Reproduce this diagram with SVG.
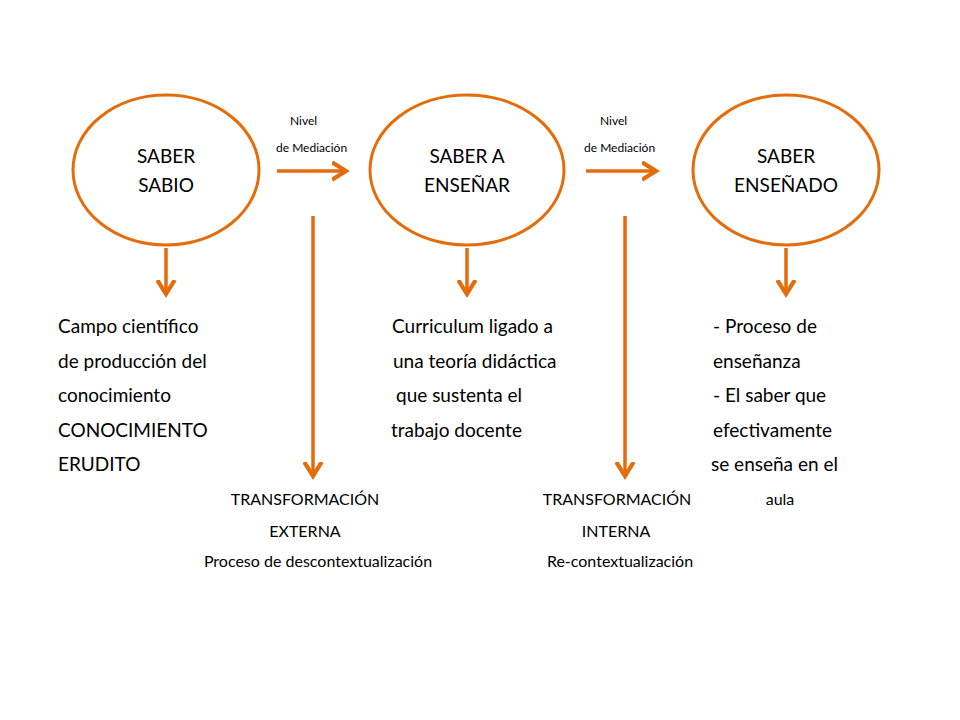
<svg xmlns="http://www.w3.org/2000/svg" width="960" height="720" viewBox="0 0 960 720">
<style>
.e{fill:#fff;stroke:#E46C0A;stroke-width:3}
.c{stroke:#E46C0A;stroke-width:3.5;fill:none;marker-end:url(#a)}
text{font-family:Lato,"Open Sans",sans-serif;fill:#000}
.n{font-size:19px;text-anchor:middle}
.b{font-size:19px}
.s{font-size:12px}
.m{font-size:16px;text-anchor:middle}
</style>
<defs><marker id="a" markerWidth="6" markerHeight="6" refX="4" refY="3" orient="auto" markerUnits="strokeWidth"><path d="M0,0.5 L4,3 L0,5.5" fill="none" stroke="#E46C0A" stroke-width="1.2"/></marker></defs>
<rect width="960" height="720" fill="#fff"/>
<g id="n1"><ellipse class="e" cx="166" cy="170" rx="93" ry="75"/><text class="n" x="166" y="163">SABER</text><text class="n" x="166" y="192">SABIO</text></g>
<g id="n2"><ellipse class="e" cx="467" cy="170" rx="97" ry="75"/><text class="n" x="467" y="163">SABER A</text><text class="n" x="467" y="192">ENSEÑAR</text></g>
<g id="n3"><ellipse class="e" cx="786" cy="170" rx="93" ry="75"/><text class="n" x="786" y="163">SABER</text><text class="n" x="786" y="192">ENSEÑADO</text></g>
<g id="connectors">
<line class="c" x1="277" y1="171" x2="346" y2="171"/>
<line class="c" x1="586" y1="171" x2="656" y2="171"/>
<line class="c" x1="166" y1="248" x2="166" y2="294"/>
<line class="c" x1="467" y1="248" x2="467" y2="294"/>
<line class="c" x1="786" y1="248" x2="786" y2="294"/>
<line class="c" x1="313" y1="216" x2="313" y2="476"/>
<line class="c" x1="625" y1="216" x2="625" y2="476"/>
</g>
<g id="labels">
<text class="s" x="290" y="125">Nivel</text><text class="s" x="276" y="152">de Mediación</text>
<text class="s" x="600" y="125">Nivel</text><text class="s" x="584" y="152">de Mediación</text>
<text class="b" x="58" y="333">Campo científico</text>
<text class="b" x="58" y="368">de producción del</text>
<text class="b" x="58" y="402">conocimiento</text>
<text class="b" x="58" y="437">CONOCIMIENTO</text>
<text class="b" x="58" y="471">ERUDITO</text>
<text class="b" x="392" y="333">Curriculum ligado a</text>
<text class="b" x="393" y="368">una teoría didáctica</text>
<text class="b" x="396" y="402">que sustenta el</text>
<text class="b" x="391" y="437">trabajo docente</text>
<text class="b" x="713" y="333">- Proceso de</text>
<text class="b" x="713" y="368">enseñanza</text>
<text class="b" x="713" y="402">- El saber que</text>
<text class="b" x="713" y="437">efectivamente</text>
<text class="b" x="711" y="471">se enseña en el</text>
<text class="m" x="305" y="505">TRANSFORMACIÓN</text>
<text class="m" x="305" y="537">EXTERNA</text>
<text class="m" x="318" y="567">Proceso de descontextualización</text>
<text class="m" x="617" y="505">TRANSFORMACIÓN</text>
<text class="m" x="616" y="537">INTERNA</text>
<text class="m" x="620" y="567">Re-contextualización</text>
<text class="m" x="780" y="505">aula</text>
</g>
</svg>
